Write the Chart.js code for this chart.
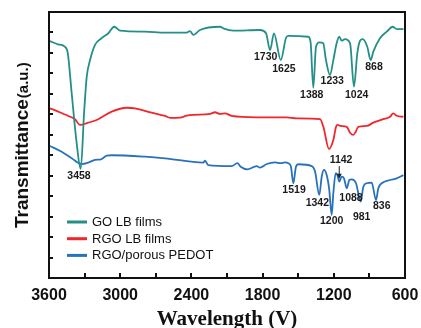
<!DOCTYPE html>
<html>
<head>
<meta charset="utf-8">
<script src="https://cdn.jsdelivr.net/npm/chart.js@4/dist/chart.umd.min.js"></script>
<style>
html,body{margin:0;padding:0;background:#fff;}
#wrap{width:421px;height:328px;position:relative;}
</style>
</head>
<body>
<div id="wrap"><canvas id="c"></canvas></div>
<script>
// ---- data (wavenumber, transmittance a.u.) ----
const seriesNames = ['GO LB films', 'RGO LB films', 'RGO/porous PEDOT'];

const goX = [3592,3524,3465,3442,3409,3367,3333,3303,3282,3254,3212,3156,3100,3050,3002,2791,2622,2440,2412,2384,2328,2159,2131,2047,1822,1771,1737,1704,1647,1603,1583,1415,1395,1373,1350,1322,1289,1266,1232,1204,1176,1154,1134,1106,1063,1030,1002,979,956,918,889,867,811,754,704,670,614];
const goY = [11.58,11.42,11.30,11.00,9.04,6.60,5.33,8.21,9.84,10.65,11.39,11.72,11.96,12.28,12.09,12.04,11.99,11.99,12.07,11.88,12.12,12.28,12.20,12.09,12.12,11.96,11.14,11.96,10.65,11.73,11.83,11.79,11.49,9.30,11.30,11.52,11.47,10.65,9.92,10.65,11.47,11.79,11.60,11.67,11.47,9.35,10.98,11.60,11.67,11.30,10.65,11.06,11.72,12.04,12.28,12.16,12.17];

const rgoX = [3592,3522,3437,3381,3339,3269,3185,3072,2945,2875,2735,2622,2580,2496,2440,2384,2243,2201,2159,2117,2060,1850,1597,1513,1316,1288,1240,1204,1181,1167,1142,1091,1063,1036,1015,994,923,867,783,726,699,670,614];
const rgoY = [8.29,8.13,7.92,7.76,7.48,7.59,7.76,8.13,8.32,8.29,8.08,7.92,7.83,7.84,7.93,7.97,8.02,8.10,8.02,8.05,7.92,7.85,7.85,7.80,7.76,7.39,6.30,6.74,7.39,7.48,7.43,7.39,7.10,6.99,7.15,7.39,7.43,7.59,7.76,7.88,8.05,7.93,7.88];

const pedotX = [3592,3493,3409,3324,3269,3212,3162,3114,3072,2791,2622,2300,2285,2258,2060,2013,1985,1929,1850,1822,1765,1695,1647,1611,1583,1561,1541,1519,1499,1386,1358,1322,1302,1283,1260,1238,1218,1204,1184,1170,1154,1134,1114,1091,1069,1049,1013,973,951,923,881,844,825,796,726,670,614];
const pedotY = [6.45,6.17,5.85,5.57,5.64,5.77,5.80,5.98,6.00,5.93,5.85,5.64,5.73,5.52,5.47,5.61,5.44,5.31,5.47,5.39,5.57,5.65,5.61,5.65,5.61,5.44,4.63,5.44,5.56,5.47,5.20,4.06,4.95,5.28,5.03,4.30,3.08,4.14,5.12,5.03,4.71,4.95,4.87,4.38,4.79,4.82,4.63,3.73,4.46,4.63,4.66,3.81,4.38,4.63,4.79,4.87,5.03];

// peak labels: text, wavenumber, transmittance where the label sits
const peakLabels = ['1730','1625','1388','1233','1024','868','3458','1142','1519','1342','1200','1088','981','836'];
const peakLabelX = [1774,1620,1386,1213,1007,861,3347,1139,1535,1339,1218,1055,965,796];
const peakLabelY = [10.79,10.20,8.94,9.63,8.94,10.33,5.00,5.77,4.30,3.68,2.80,3.90,2.97,3.52];
// arrow for 1142: wavenumber, from-y, to-y
const arrowX = 1154, arrowFromY = 5.47, arrowToY = 4.85;

const xTickValues = [3600,3000,2400,1800,1200,600];
const xMinorTicks = [3300,2700,2100,1500,900];
const yTickValues = [1,2,3,4,5,6,7,8,9,10,11,12];
const xTitle = 'Wavelength (V)';
const yTitleMain = 'Transmittance';
const yTitleUnit = '(a.u.)';

const colors = ['#238f87', '#f0262a', '#2771bd'];

function pts(xs, ys){ return xs.map((x,i)=>({x:x, y:ys[i]})); }

const decor = {
  id: 'decor',
  afterDatasetsDraw(chart){
    const ctx = chart.ctx, a = chart.chartArea;
    const xs = chart.scales.x, ys = chart.scales.y;
    ctx.save();
    // frame
    ctx.strokeStyle = '#111'; ctx.lineWidth = 2;
    ctx.strokeRect(a.left, a.top, a.right - a.left, a.bottom - a.top);
    // inward ticks
    ctx.lineWidth = 2;
    ctx.beginPath();
    xTickValues.concat(xMinorTicks).forEach(v=>{
      const px = Math.round(xs.getPixelForValue(v));
      ctx.moveTo(px, a.bottom); ctx.lineTo(px, a.bottom - 5);
    });
    yTickValues.forEach(v=>{
      const py = Math.round(ys.getPixelForValue(v));
      ctx.moveTo(a.left, py); ctx.lineTo(a.left + 4, py);
    });
    ctx.stroke();
    // peak labels
    ctx.fillStyle = '#1a1a1a';
    ctx.font = 'bold 10.5px "Liberation Sans", Arial, sans-serif';
    ctx.textAlign = 'center'; ctx.textBaseline = 'middle';
    peakLabels.forEach((t,i)=>{
      ctx.fillText(t, xs.getPixelForValue(peakLabelX[i]), ys.getPixelForValue(peakLabelY[i]));
    });
    // arrow
    const ax = xs.getPixelForValue(arrowX), ay1 = ys.getPixelForValue(arrowFromY), ay2 = ys.getPixelForValue(arrowToY);
    ctx.strokeStyle = '#222'; ctx.lineWidth = 1;
    ctx.beginPath(); ctx.moveTo(ax, ay1); ctx.lineTo(ax, ay2 - 3); ctx.stroke();
    ctx.beginPath(); ctx.moveTo(ax - 2.5, ay2 - 5); ctx.lineTo(ax + 2.5, ay2 - 5); ctx.lineTo(ax, ay2); ctx.closePath(); ctx.fillStyle='#222'; ctx.fill();
    // legend
    ctx.font = '13px "Liberation Sans", Arial, sans-serif';
    ctx.textAlign = 'left'; ctx.textBaseline = 'middle';
    chart.data.datasets.forEach((ds,i)=>{
      const y = 222 + i * 16.7;
      ctx.strokeStyle = ds.borderColor; ctx.lineWidth = 3;
      ctx.beginPath(); ctx.moveTo(67, y); ctx.lineTo(87, y); ctx.stroke();
      ctx.fillStyle = '#111';
      ctx.fillText(ds.label, 92, y + 0.5);
    });
    // x title
    ctx.fillStyle = '#111';
    ctx.font = 'bold 21px "Liberation Serif", "Times New Roman", serif';
    ctx.textAlign = 'center'; ctx.textBaseline = 'alphabetic';
    ctx.fillText(xTitle, (a.left + a.right) / 2, 325);
    // y title
    ctx.translate(28, 228);
    ctx.rotate(-Math.PI / 2);
    ctx.textAlign = 'left';
    ctx.font = 'bold 19px "Liberation Sans", Arial, sans-serif';
    ctx.fillText(yTitleMain, 0, 0);
    const w = ctx.measureText(yTitleMain).width;
    ctx.font = 'bold 15px "Liberation Sans", Arial, sans-serif';
    ctx.fillText(yTitleUnit, w + 1, 0);
    ctx.restore();
  }
};

new Chart(document.getElementById('c'), {
  type: 'line',
  data: {
    datasets: [
      {label: seriesNames[0], data: pts(goX, goY), borderColor: colors[0]},
      {label: seriesNames[1], data: pts(rgoX, rgoY), borderColor: colors[1]},
      {label: seriesNames[2], data: pts(pedotX, pedotY), borderColor: colors[2]}
    ].map(d=>Object.assign(d, {borderWidth: 1.8, pointRadius: 0, fill: false, cubicInterpolationMode: 'monotone'}))
  },
  options: {
    responsive: true, maintainAspectRatio: false, animation: false,
    layout: {padding: {left: 0, right: 16, top: 12, bottom: 0}},
    plugins: {legend: {display: false}, tooltip: {enabled: false}},
    scales: {
      x: {
        type: 'linear', reverse: true, min: 600, max: 3600,
        grid: {display: false}, border: {display: false},
        afterFit(s){ s.height = 50; },
        afterBuildTicks(s){ s.ticks = xTickValues.map(v=>({value: v})); },
        ticks: {autoSkip: false, maxRotation: 0, padding: 0, color: '#111',
          callback: (v)=>String(v),
          font: {family: '"Liberation Sans", Arial, sans-serif', size: 16, weight: 'bold'}}
      },
      y: {
        type: 'linear', min: 0, max: 13,
        grid: {display: false}, border: {display: false},
        ticks: {display: false},
        afterFit(s){ s.width = 49; }
      }
    }
  },
  plugins: [decor]
});
</script>
</body>
</html>
